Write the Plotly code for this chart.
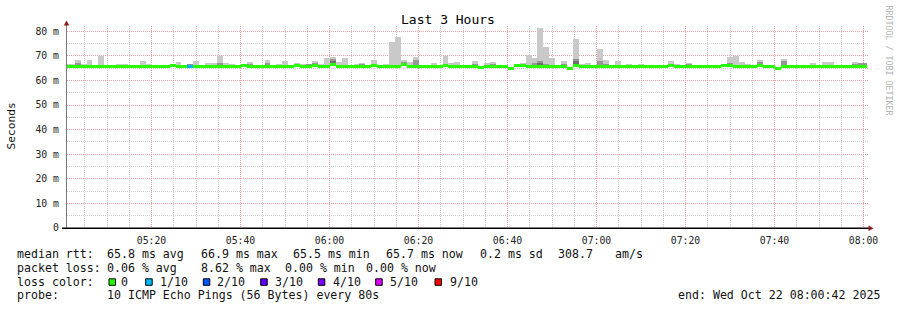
import plotly.graph_objects as go
import pandas as pd

# ---------------- data (one value per 80 s step, 05:00:04 .. 08:00:04 step starts) ----------------
step_first = "2025-10-22 05:00:04"
data_start = "2025-10-22 05:00:42"
data_end = "2025-10-22 08:00:42"
n_steps = 136

N = None
smoke_light = [66.5, 66.5, 68.3, 66.5, 68.3, 66.3, 70.0, N, 66.3, 66.7,
               66.7, 66.3, N, 67.9, 66.5, 66.3, N, 66.3, 66.5, 67.5,
               N, 66.7, 67.9, N, 67.1, 67.1, 70.0, 67.1, 66.7, 66.3,
               N, 67.5, 66.3, 66.3, 68.3, 66.3, 66.7, 67.9, N, 67.1,
               66.7, 66.7, 67.9, 66.7, 69.2, 69.6, 67.5, 69.2, 66.3, 66.7,
               67.1, 66.3, 68.3, 66.3, 66.7, 75.7, 77.7, 68.3, 67.5, 69.6,
               66.3, 66.3, 67.1, 66.3, 70.0, 67.1, 67.5, N, N, 67.9,
               N, 67.1, 67.5, N, N, N, 66.3, 67.1, 70.4, 69.2,
               81.3, 73.6, 69.2, 66.3, 67.9, N, 76.9, 66.7, 67.1, 66.3,
               72.8, 68.3, 66.3, 67.9, N, 66.7, N, 66.7, N, N,
               N, N, 67.9, 66.7, N, 67.1, N, 66.3, N, N,
               66.3, N, 69.6, 70.0, 67.5, 66.7, N, 68.3, N, 66.3,
               N, 68.8, 66.3, 66.3, 66.3, N, 67.1, N, 67.5, 67.5,
               N, N, 66.3, 67.5, 67.1, 67.1]

smoke_dark = [N] * n_steps
for k, v in {1: 67.1, 3: 66.3, 5: 66.3, 10: 66.3, 13: 66.3, 14: 66.3, 20: 66.7, 25: 67.1,
             26: 66.3, 30: 66.7, 33: 67.1, 40: 66.7, 41: 67.1, 43: 66.3, 44: 68.8, 46: 66.3,
             49: 66.7, 56: 67.5, 58: 68.3, 68: 66.7, 71: 66.7, 76: 66.7, 77: 66.3, 78: 67.1,
             79: 67.9, 80: 66.7, 83: 66.7, 85: 68.8, 86: 66.3, 89: 67.9, 90: 66.7, 96: 66.3,
             104: 66.7, 106: 66.3, 111: 67.1, 116: 67.5, 120: 67.9, 122: 66.3, 132: 66.7,
             133: 67.1, 134: 67.1}.items():
    smoke_dark[k + 1] = v

smoke_darkest = [N] * n_steps
for k, v in {44: 67.9, 79: 67.1, 85: 67.9}.items():
    smoke_darkest[k + 1] = v

median = [65.6] * n_steps
for k, v in {17: 66.2, 24: 65.8, 29: 66.2, 38: 66.0, 41: 66.0, 44: 66.5, 51: 66.2, 56: 66.5,
             63: 66.0, 69: 65.3, 74: 64.9, 75: 66.0, 76: 66.0, 84: 64.9, 85: 66.0, 101: 66.2,
             103: 65.8, 106: 65.8, 110: 66.2, 111: 66.2, 116: 66.2, 119: 64.9, 128: 65.8}.items():
    median[k + 1] = v

loss = [0] * n_steps
loss[20 + 1] = 1

loss_colors = ["#26ff00", "#00b8ff", "#0059ff", "#5e00ff", "#7e00ff", "#dd00ff", "#ff0000"]
loss_labels = ["0", "1/10", "2/10", "3/10", "4/10", "5/10", "9/10"]
loss_index = {0: 0, 1: 1, 2: 2, 3: 3, 4: 4, 5: 5, 9: 6}

y_tickvals = [0, 10, 20, 30, 40, 50, 60, 70, 80]
y_ticktext = ["0", "10 m", "20 m", "30 m", "40 m", "50 m", "60 m", "70 m", "80 m"]
y_minorvals = [5, 15, 25, 35, 45, 55, 65, 75]

# ---------------- geometry helpers (pixel -> paper) ----------------
PL, PR, PT, PB = 67, 869, 26, 228
W, H = 897, 310


def X(px):
    return (px - PL) / (PR - PL)


def Y(py):
    return (PB - py) / (PB - PT)


# x range chosen so that 20-minute grid lines fall on pixel centres (89 px per 20 min)
px_per_min = 4.45
t_ref = pd.Timestamp("2025-10-22 05:20:00")
x_left = t_ref - pd.Timedelta(minutes=(151.5 - PL) / px_per_min)
x_right = x_left + pd.Timedelta(minutes=(PR - PL) / px_per_min)

# ---------------- step positions ----------------
starts = pd.date_range(step_first, periods=n_steps, freq="80s")
ds, de = pd.Timestamp(data_start), pd.Timestamp(data_end)
centers, widths = [], []
for s in starts:
    a = max(s, ds)
    b = min(s + pd.Timedelta(seconds=80), de)
    centers.append(a + (b - a) / 2)
    widths.append((b - a).total_seconds() * 1000)

x_minor = [t for t in pd.date_range("2025-10-22 05:05:00", "2025-10-22 08:00:00", freq="5min")
           if t.minute % 20 != 0]

fig = go.Figure()


def smoke_trace(tops, color):
    ys, bs = [], []
    for t, m in zip(tops, median):
        if t is None:
            ys.append(None)
            bs.append(None)
        else:
            ys.append(t - (m - 0.4))
            bs.append(m - 0.4)
    fig.add_trace(go.Bar(x=centers, y=ys, base=bs, width=widths,
                         marker=dict(color=color, line=dict(width=0)),
                         hoverinfo="skip", showlegend=False))


smoke_trace(smoke_light, "#c9c9c9")
smoke_trace(smoke_dark, "#969696")
smoke_trace(smoke_darkest, "#6e6e6e")

fig.add_trace(go.Bar(x=centers, y=[1.22] * n_steps, base=[m - 0.61 for m in median], width=widths,
                     marker=dict(color=[loss_colors[loss_index[l]] for l in loss], line=dict(width=0)),
                     hoverinfo="skip", showlegend=False))

mono = "DejaVu Sans Mono"
grid_major = "#f0a0a0"
grid_minor = "#cfcfcf"

fig.update_layout(
    width=W, height=H,
    margin=dict(l=PL, r=W - PR, t=PT, b=H - PB, pad=0),
    paper_bgcolor="white", plot_bgcolor="white",
    barmode="overlay", bargap=0,
    showlegend=False,
    xaxis=dict(type="date",
               range=[x_left.strftime("%Y-%m-%d %H:%M:%S.%f"), x_right.strftime("%Y-%m-%d %H:%M:%S.%f")],
               tick0="2025-10-22 05:00:00", dtick=20 * 60 * 1000, tickformat="%H:%M",
               showgrid=True, gridcolor=grid_major, griddash="1px,1px", gridwidth=1,
               minor=dict(tickvals=x_minor, showgrid=True,
                          gridcolor=grid_minor, griddash="1px,1px", gridwidth=1, ticks=""),
               ticks="", showline=False, zeroline=False, ticklabelstandoff=5,
               tickfont=dict(family=mono, size=9.8, color="#222"), fixedrange=True),
    yaxis=dict(range=[0, 82.15], tickvals=y_tickvals, ticktext=y_ticktext,
               showgrid=True, gridcolor=grid_major, griddash="1px,1px", gridwidth=1,
               minor=dict(tickvals=y_minorvals, showgrid=True, gridcolor=grid_minor,
                          griddash="1px,1px", gridwidth=1, ticks=""),
               ticks="", showline=False, zeroline=False, ticklabelstandoff=7,
               tickfont=dict(family=mono, size=9.8, color="#222"), fixedrange=True),
)

shapes = []
# axis lines
shapes.append(dict(type="line", xref="paper", yref="paper", x0=X(66.5), x1=X(66.5), y0=Y(228), y1=Y(23),
                   line=dict(color="#7a7a7a", width=1)))
shapes.append(dict(type="line", xref="paper", yref="paper", x0=X(62), x1=X(869), y0=Y(228.3), y1=Y(228.3),
                   line=dict(color="#000000", width=1.6)))
# arrows
shapes.append(dict(type="path", xref="paper", yref="paper",
                   path=f"M {X(63.8)} {Y(25.5)} L {X(69.3)} {Y(25.5)} L {X(66.5)} {Y(20.5)} Z",
                   fillcolor="#8e1c1c", line=dict(width=0)))
shapes.append(dict(type="path", xref="paper", yref="paper",
                   path=f"M {X(868.5)} {Y(225.5)} L {X(868.5)} {Y(231)} L {X(873.5)} {Y(228.3)} Z",
                   fillcolor="#8e1c1c", line=dict(width=0)))

# loss color legend squares
sq_x = [109, 145.7, 203.3, 260.7, 318.3, 375.7, 435]
lab_x = [120.7, 160, 217.3, 275.3, 332.7, 390, 449.5]
for sx, col in zip(sq_x, loss_colors):
    shapes.append(dict(type="rect", xref="paper", yref="paper", x0=X(sx), x1=X(sx + 6.5),
                       y0=Y(285.3), y1=Y(278.8), fillcolor=col, line=dict(color="#000000", width=1)))

ann = []


def txt(px, py, s, size=11.6, color="#111", xanchor="left", angle=0, yanchor="middle"):
    ann.append(dict(x=X(px), y=Y(py), xref="paper", yref="paper", text=s, showarrow=False,
                    xanchor=xanchor, yanchor=yanchor, textangle=angle, borderpad=0, borderwidth=0,
                    font=dict(family=mono, size=size, color=color)))


txt(447.5, 19.5, "Last 3 Hours", size=13, color="#000", xanchor="center")
txt(11, 126.5, "Seconds", size=11.2, color="#111", xanchor="center", angle=-90)
txt(888.5, 60, "RRDTOOL / TOBI OETIKER", size=8.3, color="#b4b4b4", xanchor="center", angle=90)

r1, r2, r3, r4 = 254.5, 268, 281.5, 295
for px, s in [(16.7, "median rtt:"), (107.3, "65.8 ms avg"), (201, "66.9 ms max"), (293.3, "65.5 ms min"),
              (385.7, "65.7 ms now"), (480, "0.2 ms sd"), (558, "308.7"), (615, "am/s")]:
    txt(px, r1, s)
for px, s in [(16.7, "packet loss:"), (107.3, "0.06 % avg"), (201, "8.62 % max"), (285, "0.00 % min"),
              (365.5, "0.00 % now")]:
    txt(px, r2, s)
txt(16.7, r3, "loss color:")
for px, s in zip(lab_x, loss_labels):
    txt(px, r3, s)
txt(16.7, r4, "probe:")
txt(106.7, r4, "10 ICMP Echo Pings (56 Bytes) every 80s")
txt(678.3, r4, "end: Wed Oct 22 08:00:42 2025")

fig.update_layout(shapes=shapes, annotations=ann)
fig.write_html("out.html")
